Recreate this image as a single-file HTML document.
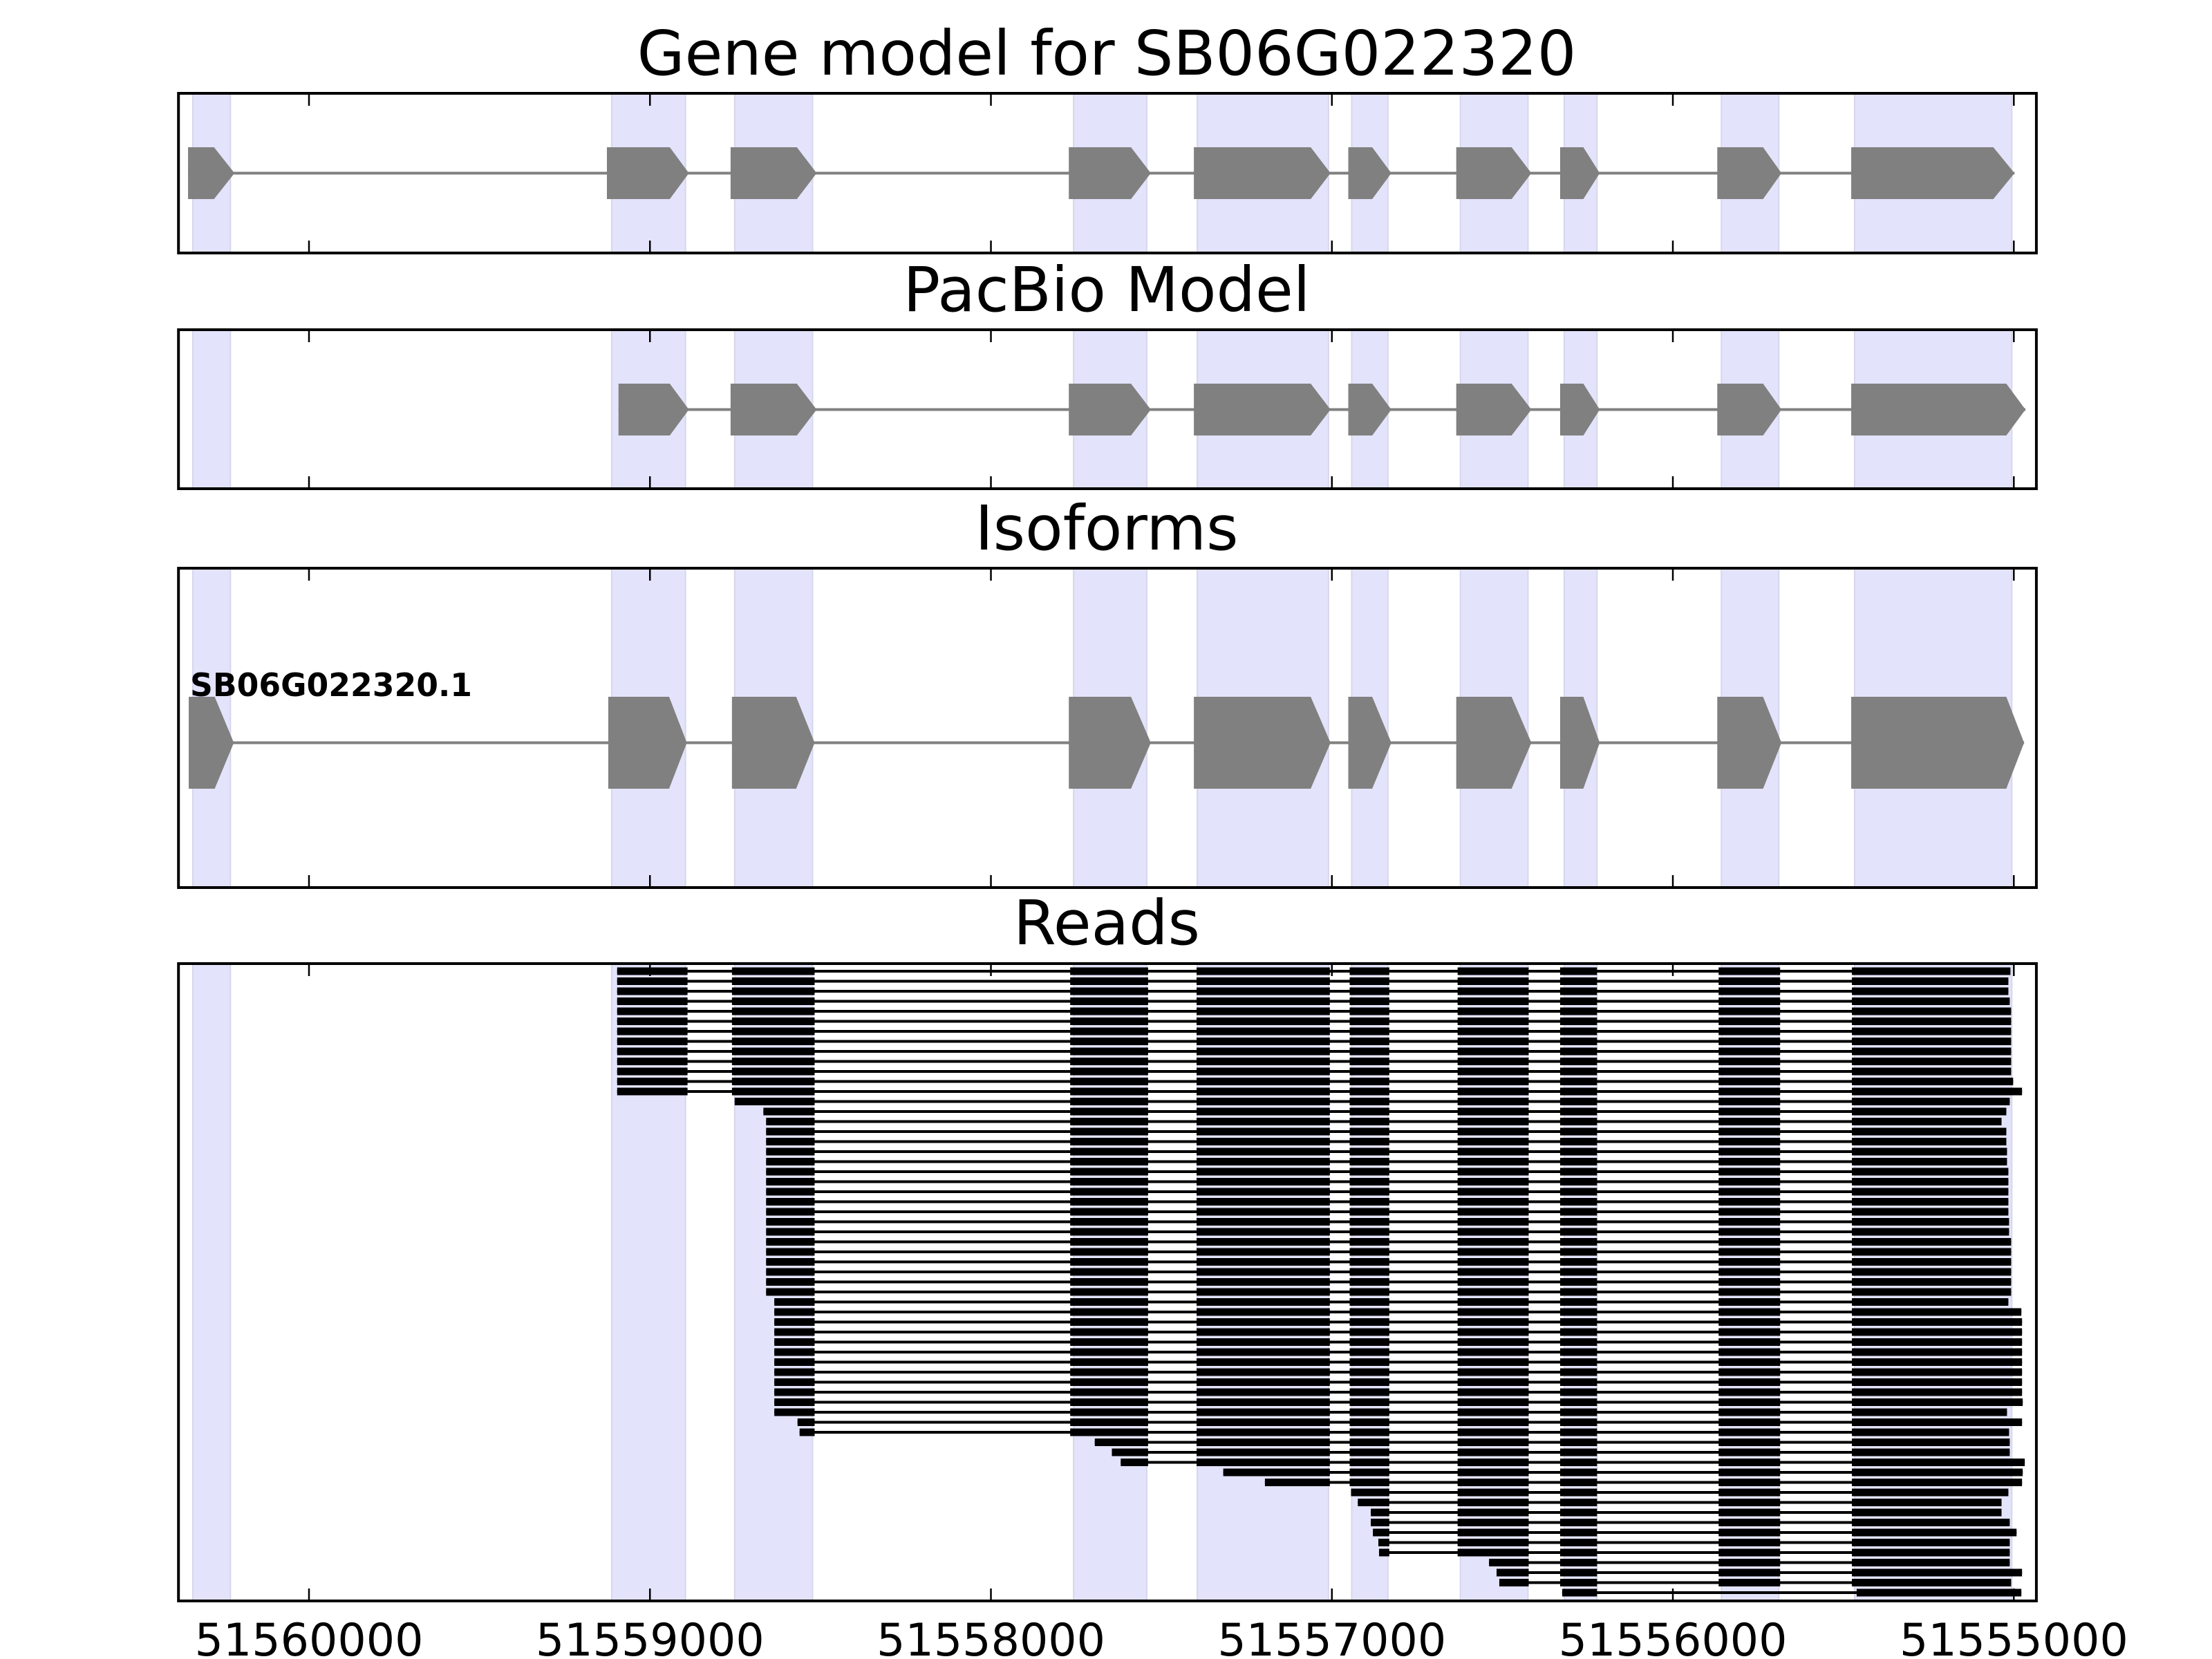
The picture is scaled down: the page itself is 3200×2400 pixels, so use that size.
<!DOCTYPE html>
<html><head><meta charset="utf-8">
<style>
html,body{margin:0;padding:0;background:#fff;}
svg{display:block;}
text{font-family:"DejaVu Sans","Liberation Sans",sans-serif;fill:#000;}
</style></head>
<body>
<svg id="s" xmlns="http://www.w3.org/2000/svg" width="3200" height="2400" viewBox="0 0 3200 2400">
<rect x="0" y="0" width="3200" height="2400" fill="#fff"/>
<g id="shade"></g>
<g id="content"></g>
<g id="frames"></g>
<text x="1601" y="108" font-size="89" text-anchor="middle">Gene model for SB06G022320</text>
<text x="1601" y="450" font-size="89" text-anchor="middle">PacBio Model</text>
<text x="1601" y="795" font-size="89" text-anchor="middle">Isoforms</text>
<text x="1601" y="1366" font-size="89" text-anchor="middle">Reads</text>
<text x="275" y="1007" font-size="46" font-weight="bold" textLength="408" lengthAdjust="spacingAndGlyphs">SB06G022320.1</text>
<text x="447" y="2395" font-size="65" text-anchor="middle">51560000</text>
<text x="940.3" y="2395" font-size="65" text-anchor="middle">51559000</text>
<text x="1433.6" y="2395" font-size="65" text-anchor="middle">51558000</text>
<text x="1926.8" y="2395" font-size="65" text-anchor="middle">51557000</text>
<text x="2420.1" y="2395" font-size="65" text-anchor="middle">51556000</text>
<text x="2913.4" y="2395" font-size="65" text-anchor="middle">51555000</text>
</svg>
<script>
(function(){
var NS="http://www.w3.org/2000/svg";
function X(v){return 447+(v-447)*0.9885;}
function el(parent,tag,attrs){var e=document.createElementNS(NS,tag);for(var k in attrs)e.setAttribute(k,attrs[k]);document.getElementById(parent).appendChild(e);return e;}
var L=X(256),R=X(2975);
var panels=[[135,366],[477,707],[822,1284],[1394,2316]];
var shades=[[277,332],[890,998],[1070,1184],[1566,1673],[1747,1939],[1973,2026],[2132,2231],[2284,2332],[2514,2598],[2709,2939]];
var ticks=[447,946,1445,1944,2443,2942];
panels.forEach(function(p){
  shades.forEach(function(s){
    el("shade","rect",{x:X(s[0]),y:p[0],width:X(s[1])-X(s[0]),height:p[1]-p[0],fill:"#e3e3fb",stroke:"#d6d6ec","stroke-width":2});
  });
  ticks.forEach(function(t){
    var tx=X(t);
    el("frames","line",{x1:tx,x2:tx,y1:p[0],y2:p[0]+18,stroke:"#000","stroke-width":2.5});
    el("frames","line",{x1:tx,x2:tx,y1:p[1],y2:p[1]-18,stroke:"#000","stroke-width":2.5});
  });
  el("frames","rect",{x:L,y:p[0],width:R-L,height:p[1]-p[0],fill:"none",stroke:"#000","stroke-width":4});
});
var gm=[[270,308,338],[883,975,1003],[1064,1161,1190],[1559,1650,1679],[1742,1913,1942],[1968,2003,2031],[2126,2207,2236],[2278,2312,2336],[2508,2575,2602],[2704,2912,2943]];
function model(exons,top,bot){
  var c=(top+bot)/2;
  el("content","line",{x1:X(exons[0][0]),x2:X(exons[exons.length-1][2]),y1:c,y2:c,stroke:"#808080","stroke-width":4});
  exons.forEach(function(e){
    var a=X(e[0]),b=X(e[1]),t=X(e[2]);
    el("content","polygon",{points:a+","+top+" "+b+","+top+" "+t+","+c+" "+b+","+bot+" "+a+","+bot,fill:"#808080"});
  });
}
model(gm,213,288);
var pb=gm.slice(1).map(function(e){return e.slice();});
pb[0][0]=900; pb[8]=[2704,2931,2959];
model(pb,555,630);
var iso=gm.map(function(e){return e.slice();});
iso[0]=[271,309,337]; iso[1]=[885,974,1000]; iso[2]=[1066,1160,1187]; iso[9]=[2704,2931,2957];
model(iso,1008,1141);
var E=[[898,1001],[1066,1187],[1561,1675],[1746,1941],[1970,2028],[2128,2232],[2278,2332],[2510,2600],[2705,99999]];
var starts=[];
for(var i=0;i<13;i++)starts.push(898);
starts.push(1070);starts.push(1112);
for(i=15;i<33;i++)starts.push(1116);
for(i=33;i<45;i++)starts.push(1128);
starts=starts.concat([1162,1165,1597,1622,1635,1785,1846,1972,1982,2001,2001,2004,2012,2013,2174,2185,2189,2281]);
var ends=[2937,2934,2934,2936,2938,2938,2938,2938,2938,2938,2938,2941,2954,2936,2931,2924,2931,2931,2932,2932,2934,2934,2934,2934,2934,2935,2935,2938,2938,2938,2938,2938,2938,2934,2953,2954,2954,2954,2954,2954,2954,2954,2954,2955,2932,2954,2935,2936,2936,2958,2955,2954,2934,2924,2924,2936,2946,2936,2936,2936,2954,2938,2953];
for(i=0;i<63;i++){
  var y=1405+14.5*i, s=starts[i], e=ends[i];
  el("content","rect",{x:X(s),y:y-2,width:X(e)-X(s),height:4,fill:"#000"});
  for(var k=0;k<E.length;k++){
    var a=Math.max(E[k][0],s), b=Math.min(E[k][1],e);
    if(i==62){ if(k==7)continue; if(k==8)a=2712; }
    if(b>a) el("content","rect",{x:X(a),y:y-5.5,width:X(b)-X(a),height:11,fill:"#000"});
  }
}
})();
</script>
</body></html>
